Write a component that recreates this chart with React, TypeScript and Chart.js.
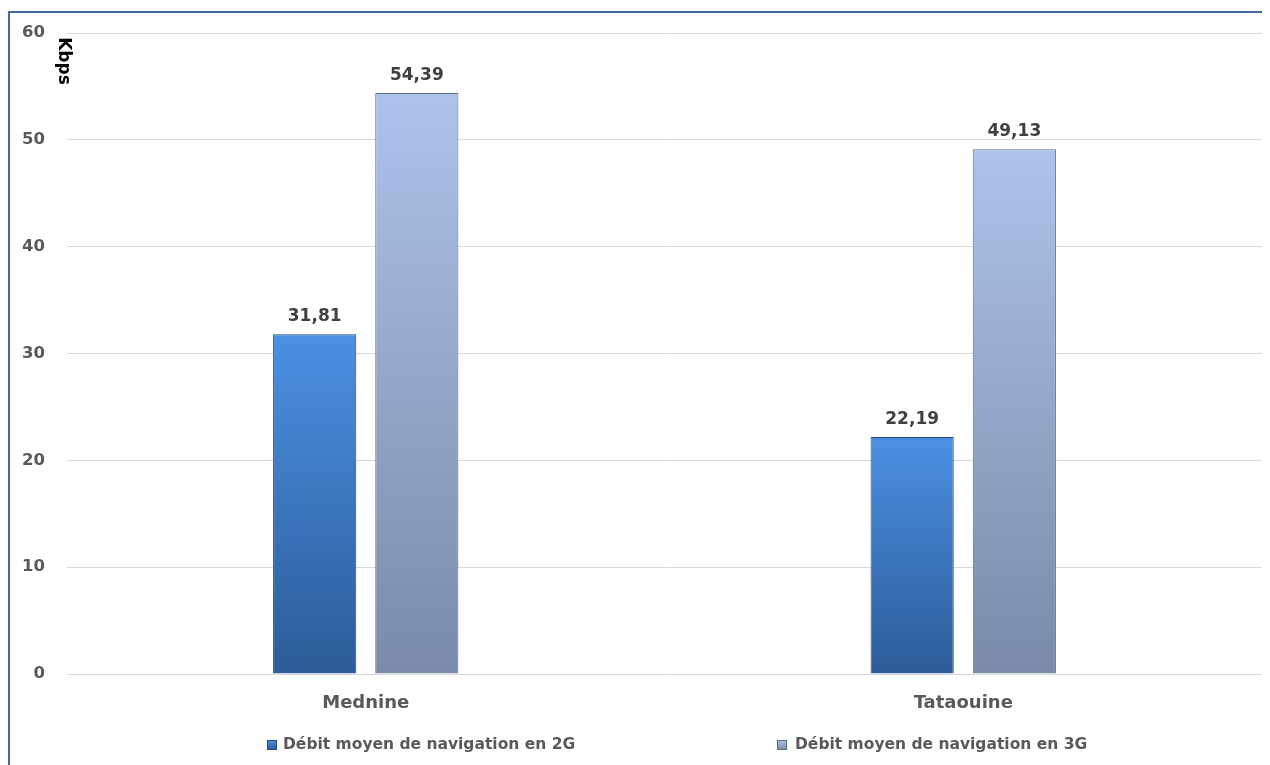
import React, { useEffect, useRef } from "react";
import { Chart, registerables } from "chart.js";

Chart.register(...registerables);

const categories = ["Mednine", "Tataouine"];
const series2G = [31.81, 22.19];
const series3G = [54.39, 49.13];
const seriesNames = ["Débit moyen de navigation en 2G", "Débit moyen de navigation en 3G"];
const yTicks = [0, 10, 20, 30, 40, 50, 60];
const unitLabel = "Kbps";

const FONT = "'DejaVu Sans', 'Liberation Sans', sans-serif";

const palette = [
  { top: "#4b90e2", bottom: "#2c5c98", edge: "#23497a" },
  { top: "#adc3ea", bottom: "#7a8aa8", edge: "#5d6b85" },
];

function barGradient(ctx: any, idx: number) {
  const chart = ctx.chart;
  const p = palette[idx];
  if (!chart.chartArea || !chart.scales || !chart.scales.y || ctx.raw == null) return p.top;
  const y = chart.scales.y;
  const yTop = y.getPixelForValue(ctx.raw);
  const yBot = y.getPixelForValue(0);
  const g = chart.ctx.createLinearGradient(0, yTop, 0, yBot);
  g.addColorStop(0, p.top);
  g.addColorStop(1, p.bottom);
  return g;
}

const fmt = (v: number) => v.toFixed(2).replace(".", ",");

const extrasPlugin = {
  id: "extras",
  afterDatasetsDraw(chart: any) {
    const ctx = chart.ctx;
    ctx.save();
    // data labels
    ctx.font = `bold 17px ${FONT}`;
    ctx.fillStyle = "#404040";
    ctx.textAlign = "center";
    ctx.textBaseline = "bottom";
    chart.data.datasets.forEach((ds: any, di: number) => {
      const meta = chart.getDatasetMeta(di);
      meta.data.forEach((bar: any, i: number) => {
        ctx.fillText(fmt(ds.data[i]), bar.x, bar.y - 9);
      });
    });
    // unit label rotated
    ctx.font = `bold 17px ${FONT}`;
    ctx.fillStyle = "#000000";
    ctx.translate(55, 53);
    ctx.rotate(Math.PI / 2);
    ctx.textAlign = "center";
    ctx.textBaseline = "middle";
    ctx.fillText(unitLabel, 0, 0);
    ctx.restore();

    // legend
    ctx.save();
    ctx.font = `bold 15.5px ${FONT}`;
    ctx.textBaseline = "middle";
    ctx.textAlign = "left";
    const ly = 737;
    const xs = [259, 769];
    const tx = [275, 787];
    seriesNames.forEach((name, i) => {
      const p = palette[i];
      const g = ctx.createLinearGradient(0, ly - 5, 0, ly + 5);
      g.addColorStop(0, p.top);
      g.addColorStop(1, p.bottom);
      ctx.fillStyle = g;
      ctx.fillRect(xs[i], ly - 5, 10, 10);
      ctx.strokeStyle = p.edge;
      ctx.lineWidth = 1;
      ctx.strokeRect(xs[i] + 0.5, ly - 4.5, 9, 9);
      ctx.fillStyle = "#595959";
      ctx.fillText(name, tx[i], ly);
    });
    ctx.restore();
  },
};

export default function App() {
  const ref = useRef<HTMLCanvasElement>(null);
  useEffect(() => {
    if (!ref.current) return;
    const chart = new Chart(ref.current, {
      type: "bar",
      data: {
        labels: categories,
        datasets: [
          {
            label: seriesNames[0],
            data: series2G,
            backgroundColor: (c: any) => barGradient(c, 0),
            borderColor: palette[0].edge,
            borderWidth: { left: 1, right: 1, top: 1, bottom: 0 } as any,
            categoryPercentage: 0.342,
            barPercentage: 0.814,
          },
          {
            label: seriesNames[1],
            data: series3G,
            backgroundColor: (c: any) => barGradient(c, 1),
            borderColor: palette[1].edge,
            borderWidth: { left: 1, right: 1, top: 1, bottom: 0 } as any,
            categoryPercentage: 0.342,
            barPercentage: 0.814,
          },
        ],
      },
      options: {
        animation: false,
        responsive: false,
        maintainAspectRatio: false,
        layout: { padding: { top: 25, right: 8, bottom: 0, left: 0 } },
        plugins: {
          legend: { display: false },
          tooltip: { enabled: false },
        },
        scales: {
          x: {
            grid: { display: false, drawTicks: false },
            border: { display: false },
            ticks: {
              padding: 19,
              color: "#595959",
              font: { family: FONT, size: 18, weight: "bold" },
            },
            afterFit: (s: any) => {
              s.height = 91;
              s.paddingLeft = 0;
              s.paddingRight = 0;
            },
          },
          y: {
            min: 0,
            max: 60,
            afterBuildTicks: (s: any) => {
              s.ticks = yTicks.map((v) => ({ value: v }));
            },
            grid: { color: "#d9d9d9", drawTicks: false, lineWidth: 1 },
            border: { display: false },
            ticks: {
              padding: 22,
              color: "#595959",
              font: { family: FONT, size: 16.5, weight: "bold" },
            },
            afterFit: (s: any) => {
              s.width = 59;
              s.paddingTop = 0;
              s.paddingBottom = 0;
            },
          },
        },
      },
      plugins: [extrasPlugin],
    });
    return () => chart.destroy();
  }, []);

  return (
    <div style={{ position: "relative", width: 1262, height: 757 }}>
      <div
        style={{
          position: "absolute",
          left: 0,
          top: 3,
          right: 0,
          bottom: 0,
          borderTop: "2px solid #3f6aa3",
          borderLeft: "2px solid #3f6aa3",
          pointerEvents: "none",
        }}
      />
      <canvas ref={ref} width={1262} height={757} style={{ display: "block" }} />
    </div>
  );
}
